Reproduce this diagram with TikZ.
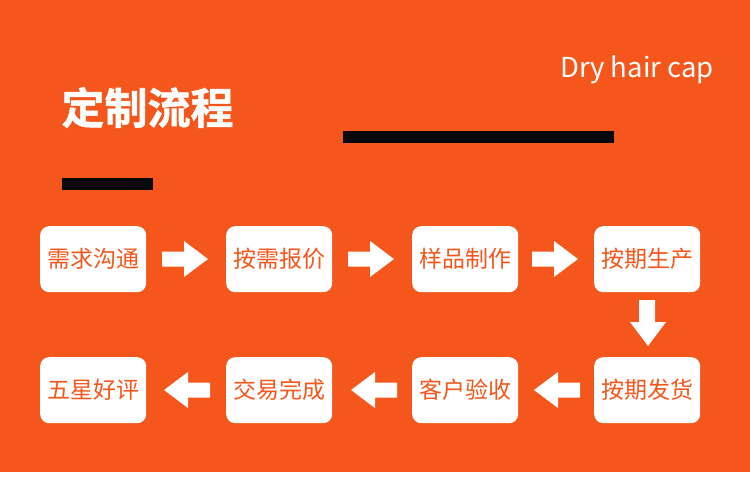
\documentclass[tikz,border=0pt]{standalone}
\usepackage{fontspec}
\newfontfamily\cjk{Noto Sans CJK SC}
\newfontfamily\cjkheavy{Noto Sans CJK SC}[UprightFont=* Bold,FakeBold=1.2]
\definecolor{bgor}{HTML}{F4561B}
\definecolor{barblk}{HTML}{080808}
\begin{document}
\begin{tikzpicture}[x=1pt,y=-1pt,
  stepbox/.style={fill=white,rounded corners=9pt,minimum width=106pt,minimum height=66pt,inner sep=0pt,anchor=north west,text=bgor,font=\cjk\fontsize{23}{23}\selectfont},
  blockarrow/.style={fill=white,draw=none}]
\useasboundingbox (0,0) rectangle (750,477);
\fill[white] (0,0) rectangle (750,477);
\fill[bgor] (0,0) rectangle (750,471.5);
% title
\node[inner sep=0pt,text=white,font=\cjkheavy\fontsize{43}{43}\selectfont] (title) at (147.5,107.5) {定制流程};
\node[inner sep=0pt,anchor=base east,text=white,font=\cjk\fontsize{27.5}{27.5}\selectfont] (sub) at (714,77) {Dry hair cap};
\fill[barblk] (62,178) rectangle (153,190);
\fill[barblk] (343,131) rectangle (614,143);
% boxes row 1
\node[stepbox] (b1) at (40,226) {需求沟通};
\node[stepbox] (b2) at (226,226) {按需报价};
\node[stepbox] (b3) at (412,226) {样品制作};
\node[stepbox] (b4) at (594,226) {按期生产};
% boxes row 2
\node[stepbox] (b5) at (594,357) {按期发货};
\node[stepbox] (b6) at (412,357) {客户验收};
\node[stepbox] (b7) at (226,357) {交易完成};
\node[stepbox] (b8) at (40,357) {五星好评};
% right arrows
\foreach \xa in {162,348,532}{
  \fill[white] (\xa,251.5) -- (\xa+22,251.5) -- (\xa+22,241) -- (\xa+46,259) -- (\xa+22,277) -- (\xa+22,266.5) -- (\xa,266.5) -- cycle;
}
% left arrows
\foreach \xa in {164,351,534}{
  \fill[white] (\xa,390) -- (\xa+24,372) -- (\xa+24,382.5) -- (\xa+46,382.5) -- (\xa+46,397.5) -- (\xa+24,397.5) -- (\xa+24,408) -- cycle;
}
% down arrow
\fill[white] (639,300) -- (655,300) -- (655,322) -- (666,322) -- (648,346) -- (630,322) -- (639,322) -- cycle;
\end{tikzpicture}
\end{document}
